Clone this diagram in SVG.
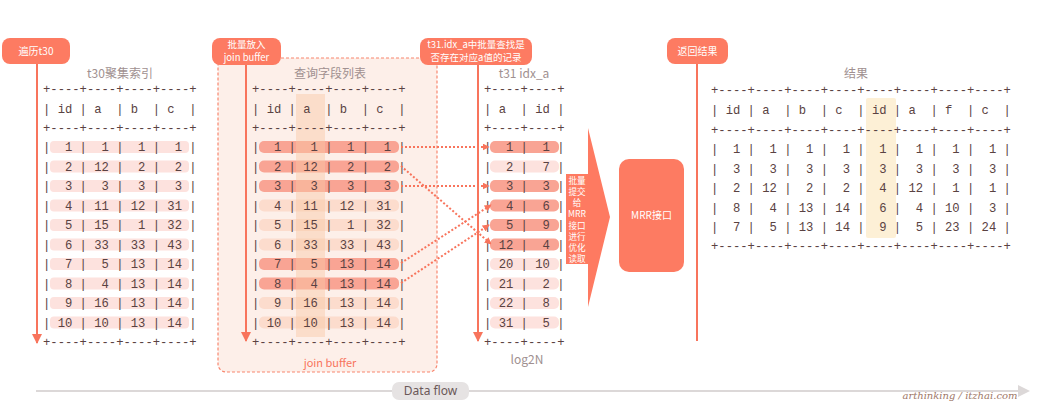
<svg xmlns="http://www.w3.org/2000/svg" width="1050" height="410" viewBox="0 0 1050 410">
<style>
.btn{fill:#fd7b62}
.bt{fill:#fff;font-family:"Noto Sans CJK SC","Noto Sans",sans-serif;font-size:10px;text-anchor:middle}
.b2{fill:#fff;font-family:"Noto Sans CJK SC","Noto Sans",sans-serif;font-size:9.5px;text-anchor:middle}
.bs{fill:#fff;font-family:"Noto Sans CJK SC","Noto Sans",sans-serif;font-size:8.6px;text-anchor:middle}
.vl{stroke:#f8745c;stroke-width:2;fill:none}
.mono{font-family:"Liberation Mono","DejaVu Sans Mono",monospace;font-size:12.2px;fill:#5a4242;white-space:pre}
.ttl{font-family:"Noto Sans CJK SC","Noto Sans",sans-serif;font-size:12px;fill:#a09090;text-anchor:middle}
.lr{fill:#fde2de}
.dr{fill:#f9a494}
.jl{fill:#fcdccd}
.dl{stroke:#f8745c;stroke-width:2;stroke-dasharray:2 2;fill:none}
</style>
<defs>
<marker id="ah" viewBox="0 0 10 10" refX="9" refY="5" markerWidth="5" markerHeight="5" orient="auto"><path d="M0,0L10,5L0,10z" fill="#f8745c"/></marker>
<marker id="ah2" viewBox="0 0 10 10" refX="9" refY="5" markerWidth="3.5" markerHeight="3.5" orient="auto"><path d="M0,0L10,5L0,10z" fill="#f8745c"/></marker>
</defs>
<rect width="1050" height="410" fill="#fff"/>

<g id="joinbuffer">
<rect x="218" y="58" width="219" height="314" rx="8" fill="#fdefe9" stroke="#f8866f" stroke-dasharray="3 2" stroke-width="1.2"/>
<text x="330" y="367" font-family="Noto Sans CJK SC,Noto Sans,sans-serif" font-size="11" fill="#f8745c" text-anchor="middle">join buffer</text>
</g>

<g id="t30" xml:space="preserve">
<text class="ttl" x="120" y="78">t30聚集索引</text>
<rect class="lr" x="50" y="141" width="139" height="12" rx="4"/>
<rect class="lr" x="50" y="160.5" width="139" height="12" rx="4"/>
<rect class="lr" x="50" y="180" width="139" height="12" rx="4"/>
<rect class="lr" x="50" y="199.5" width="139" height="12" rx="4"/>
<rect class="lr" x="50" y="219" width="139" height="12" rx="4"/>
<rect class="lr" x="50" y="238.5" width="139" height="12" rx="4"/>
<rect class="lr" x="50" y="258" width="139" height="12" rx="4"/>
<rect class="lr" x="50" y="277.5" width="139" height="12" rx="4"/>
<rect class="lr" x="50" y="297" width="139" height="12" rx="4"/>
<rect class="lr" x="50" y="316.5" width="139" height="12" rx="4"/>
<text class="mono" x="43" y="93">+----+----+----+----+</text>
<text class="mono" x="43" y="113">| id | a  | b  | c  |</text>
<text class="mono" x="43" y="132">+----+----+----+----+</text>
<text class="mono" x="43" y="151">|  1 |  1 |  1 |  1 |</text>
<text class="mono" x="43" y="170.5">|  2 | 12 |  2 |  2 |</text>
<text class="mono" x="43" y="190">|  3 |  3 |  3 |  3 |</text>
<text class="mono" x="43" y="209.5">|  4 | 11 | 12 | 31 |</text>
<text class="mono" x="43" y="229">|  5 | 15 |  1 | 32 |</text>
<text class="mono" x="43" y="248.5">|  6 | 33 | 33 | 43 |</text>
<text class="mono" x="43" y="268">|  7 |  5 | 13 | 14 |</text>
<text class="mono" x="43" y="287.5">|  8 |  4 | 13 | 14 |</text>
<text class="mono" x="43" y="307">|  9 | 16 | 13 | 14 |</text>
<text class="mono" x="43" y="326.5">| 10 | 10 | 13 | 14 |</text>
<text class="mono" x="43" y="346">+----+----+----+----+</text>
</g>

<g id="jbtable" xml:space="preserve">
<text class="ttl" x="330" y="78">查询字段列表</text>
<rect class="dr" x="259" y="141" width="140" height="12" rx="5"/>
<rect class="dr" x="259" y="160.5" width="140" height="12" rx="5"/>
<rect class="dr" x="259" y="180" width="140" height="12" rx="5"/>
<rect class="jl" x="259" y="199.5" width="140" height="12" rx="5"/>
<rect class="jl" x="259" y="219" width="140" height="12" rx="5"/>
<rect class="jl" x="259" y="238.5" width="140" height="12" rx="5"/>
<rect class="dr" x="259" y="258" width="140" height="12" rx="5"/>
<rect class="dr" x="259" y="277.5" width="140" height="12" rx="5"/>
<rect class="jl" x="259" y="297" width="140" height="12" rx="5"/>
<rect class="jl" x="259" y="316.5" width="140" height="12" rx="5"/>
<rect x="296" y="94" width="29" height="243" fill="#f9c8a4" opacity="0.45"/>
<text class="mono" x="252" y="93">+----+----+----+----+</text>
<text class="mono" x="252" y="113">| id | a  | b  | c  |</text>
<text class="mono" x="252" y="132">+----+----+----+----+</text>
<text class="mono" x="252" y="151">|  1 |  1 |  1 |  1 |</text>
<text class="mono" x="252" y="170.5">|  2 | 12 |  2 |  2 |</text>
<text class="mono" x="252" y="190">|  3 |  3 |  3 |  3 |</text>
<text class="mono" x="252" y="209.5">|  4 | 11 | 12 | 31 |</text>
<text class="mono" x="252" y="229">|  5 | 15 |  1 | 32 |</text>
<text class="mono" x="252" y="248.5">|  6 | 33 | 33 | 43 |</text>
<text class="mono" x="252" y="268">|  7 |  5 | 13 | 14 |</text>
<text class="mono" x="252" y="287.5">|  8 |  4 | 13 | 14 |</text>
<text class="mono" x="252" y="307">|  9 | 16 | 13 | 14 |</text>
<text class="mono" x="252" y="326.5">| 10 | 10 | 13 | 14 |</text>
<text class="mono" x="252" y="346">+----+----+----+----+</text>
</g>

<g id="t31" xml:space="preserve">
<text class="ttl" x="524" y="78">t31 idx_a</text>
<rect class="dr" x="490" y="141" width="69" height="12" rx="5"/>
<rect class="lr" x="490" y="160.5" width="69" height="12" rx="5"/>
<rect class="dr" x="490" y="180" width="69" height="12" rx="5"/>
<rect class="dr" x="490" y="199.5" width="69" height="12" rx="5"/>
<rect class="dr" x="490" y="219" width="69" height="12" rx="5"/>
<rect class="dr" x="490" y="238.5" width="69" height="12" rx="5"/>
<rect class="lr" x="490" y="258" width="69" height="12" rx="5"/>
<rect class="lr" x="490" y="277.5" width="69" height="12" rx="5"/>
<rect class="lr" x="490" y="297" width="69" height="12" rx="5"/>
<rect class="lr" x="490" y="316.5" width="69" height="12" rx="5"/>
<text class="mono" x="484" y="93">+----+----+</text>
<text class="mono" x="484" y="113">| a  | id |</text>
<text class="mono" x="484" y="132">+----+----+</text>
<text class="mono" x="484" y="151">|  1 |  1 |</text>
<text class="mono" x="484" y="170.5">|  2 |  7 |</text>
<text class="mono" x="484" y="190">|  3 |  3 |</text>
<text class="mono" x="484" y="209.5">|  4 |  6 |</text>
<text class="mono" x="484" y="229">|  5 |  9 |</text>
<text class="mono" x="484" y="248.5">| 12 |  4 |</text>
<text class="mono" x="484" y="268">| 20 | 10 |</text>
<text class="mono" x="484" y="287.5">| 21 |  2 |</text>
<text class="mono" x="484" y="307">| 22 |  8 |</text>
<text class="mono" x="484" y="326.5">| 31 |  5 |</text>
<text class="mono" x="484" y="346">+----+----+</text>
<text class="ttl" x="527" y="364" font-size="11">log2N</text>
</g>

<g id="result" xml:space="preserve">
<text class="ttl" x="856" y="78">结果</text>
<rect x="866" y="98" width="30" height="140" rx="2" fill="#fdf0d6"/>
<text class="mono" x="711" y="94">+----+----+----+----+----+----+----+----+</text>
<text class="mono" x="711" y="114">| id | a  | b  | c  | id | a  | f  | c  |</text>
<text class="mono" x="711" y="134">+----+----+----+----+----+----+----+----+</text>
<text class="mono" x="711" y="153">|  1 |  1 |  1 |  1 |  1 |  1 |  1 |  1 |</text>
<text class="mono" x="711" y="172.5">|  3 |  3 |  3 |  3 |  3 |  3 |  3 |  3 |</text>
<text class="mono" x="711" y="192">|  2 | 12 |  2 |  2 |  4 | 12 |  1 |  1 |</text>
<text class="mono" x="711" y="211.5">|  8 |  4 | 13 | 14 |  6 |  4 | 10 |  3 |</text>
<text class="mono" x="711" y="231">|  7 |  5 | 13 | 14 |  9 |  5 | 23 | 24 |</text>
<text class="mono" x="711" y="250">+----+----+----+----+----+----+----+----+</text>
</g>

<g id="connectors">
<line class="vl" x1="37" y1="64" x2="37" y2="343" marker-end="url(#ah)"/>
<line class="vl" x1="246" y1="64" x2="246" y2="341" marker-end="url(#ah)"/>
<line class="vl" x1="478" y1="64" x2="478" y2="341" marker-end="url(#ah)"/>
<line class="vl" x1="697" y1="64" x2="697" y2="341"/>
<path class="dl" d="M401,147 L489,147" marker-end="url(#ah2)"/>
<path class="dl" d="M401,166 L491,244" marker-end="url(#ah2)"/>
<path class="dl" d="M401,186 L489,186" marker-end="url(#ah2)"/>
<path class="dl" d="M401,263 L491,205" marker-end="url(#ah2)"/>
<path class="dl" d="M401,283 L489,225" marker-end="url(#ah2)"/>
</g>

<g id="btn-t30">
<rect class="btn" x="2" y="38" width="68" height="26" rx="8"/>
<text class="bt" x="36" y="55">遍历t30</text>
</g>
<g id="btn-jb">
<rect class="btn" x="212" y="38" width="69" height="27" rx="8"/>
<text class="b2" x="246.5" y="48">批量放入</text>
<text class="b2" x="246.5" y="60.5">join buffer</text>
</g>
<g id="btn-t31">
<rect class="btn" x="420" y="38" width="112" height="27" rx="8"/>
<text class="b2" x="476" y="48">t31.idx_a中批量查找是</text>
<text class="b2" x="476" y="60.5">否存在对应a值的记录</text>
</g>
<g id="btn-ret">
<rect class="btn" x="667" y="38" width="61" height="26" rx="8"/>
<text class="bt" x="697.5" y="55">返回结果</text>
</g>

<g id="mrr-arrow">
<polygon points="566,174 588,174 588,128 610,217 588,307 588,264 566,264" fill="#fe7a61"/>
<text class="bs" x="577" y="183.5">批量</text>
<text class="bs" x="577" y="195">提交</text>
<text class="bs" x="577" y="206">给</text>
<text class="bs" x="577" y="217">MRR</text>
<text class="bs" x="577" y="228.5">接口</text>
<text class="bs" x="577" y="239.5">进行</text>
<text class="bs" x="577" y="251">优化</text>
<text class="bs" x="577" y="262">读取</text>
</g>
<g id="mrr">
<rect class="btn" x="619" y="159" width="65" height="113" rx="10"/>
<text class="bt" x="651.5" y="219">MRR接口</text>
</g>

<g id="dataflow">
<line x1="36" y1="391" x2="1022" y2="391" stroke="#dcd8d8" stroke-width="2"/>
<polygon points="1018,385 1030,391 1018,397" fill="#dcd8d8"/>
<rect x="392" y="382" width="77" height="18" rx="7" fill="#e6e3e3"/>
<text x="430.5" y="395" font-family="Noto Sans,sans-serif" font-size="12" fill="#6a5858" text-anchor="middle">Data flow</text>
<text x="960" y="399" font-family="DejaVu Serif,serif" font-style="italic" font-size="10" fill="#a07868" text-anchor="middle">arthinking / itzhai.com</text>
</g>
</svg>
